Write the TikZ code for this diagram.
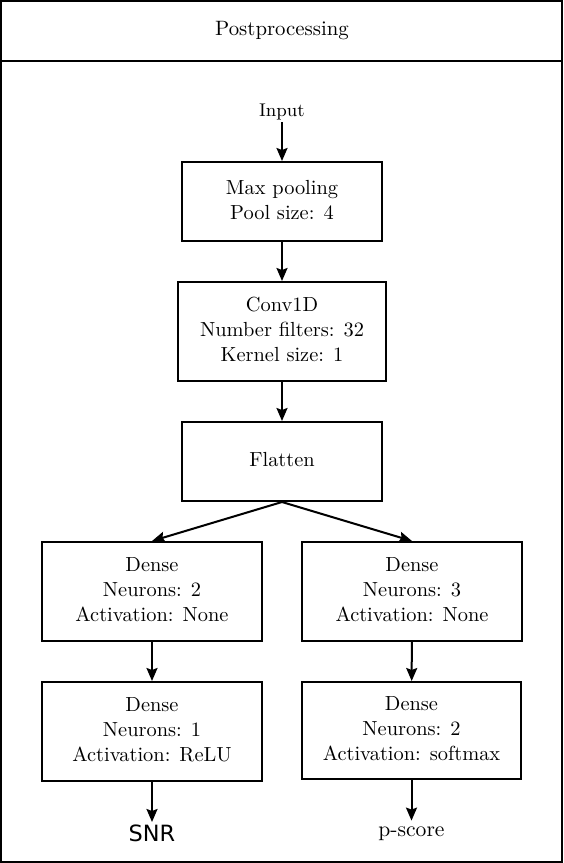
\documentclass[tikz,border=0pt]{standalone}
\usepackage{fontspec}
\newfontfamily\snrfont{DejaVu Sans}
\usetikzlibrary{arrows.meta}
\begin{document}
\begin{tikzpicture}[x=0.5pt,y=-0.5pt,
  layer/.style={draw,line width=1pt,align=center,inner sep=0pt,text depth=2pt,
    font=\fontsize{10.2}{12.5}\selectfont},
  conn/.style={line width=1pt,-{Stealth[length=6.5pt,width=5.5pt,inset=1pt]}},
  lbl/.style={inner sep=1pt}]
\useasboundingbox (0,0) rectangle (563,863);
\draw[line width=1pt] (1,1) rectangle (562,862);
\draw[line width=1pt] (1,61) -- (562,61);
\node[font=\fontsize{10.4}{12.5}\selectfont] (title) at (282,31) {Postprocessing};
\node[lbl,font=\fontsize{9.2}{11}\selectfont] (input) at (282,112) {Input};
\node[layer,minimum width=100pt,minimum height=39.5pt] (pool) at (282,201.5) {Max pooling\\Pool size: 4};
\node[layer,minimum width=104pt,minimum height=49.5pt] (conv) at (282,331.5) {Conv1D\\Number filters: 32\\Kernel size: 1};
\node[layer,minimum width=100pt,minimum height=39.5pt] (flat) at (282,461.5) {Flatten};
\node[layer,minimum width=110pt,minimum height=49.5pt] (dl1) at (152,591.5) {Dense\\Neurons: 2\\Activation: None};
\node[layer,minimum width=110pt,minimum height=49.5pt] (dr1) at (412,591.5) {Dense\\Neurons: 3\\Activation: None};
\node[layer,minimum width=110pt,minimum height=49.5pt] (dl2) at (152,731.5) {Dense\\Neurons: 1\\Activation: ReLU};
\node[layer,minimum width=109.5pt,minimum height=48.5pt] (dr2) at (411.5,730.5) {Dense\\Neurons: 2\\Activation: softmax};
\node[lbl,font=\snrfont\fontsize{11.2}{13}\selectfont,anchor=north] (snr) at (152,822) {SNR};
\node[lbl,font=\fontsize{10.8}{13}\selectfont,text height=6.5pt,anchor=base] (pscore) at (411.5,836) {p-score};
\draw[conn] (input.south) -- (pool.north);
\draw[conn] (pool) -- (conv);
\draw[conn] (conv) -- (flat);
\draw[conn] (flat.south) -- (dl1.north);
\draw[conn] (flat.south) -- (dr1.north);
\draw[conn] (dl1) -- (dl2);
\draw[conn] (dr1) -- (dr2);
\draw[conn] (dl2.south) -- (snr.north);
\draw[conn] (dr2.south) -- (pscore.north);
\end{tikzpicture}
\end{document}
